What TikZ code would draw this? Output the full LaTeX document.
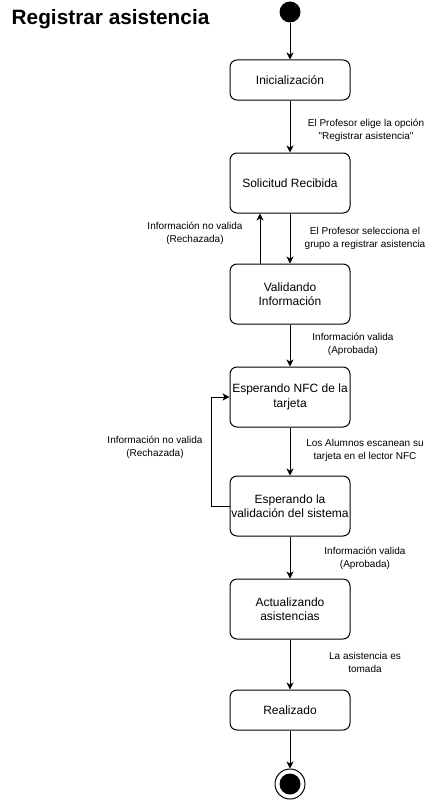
\documentclass[tikz,border=0pt]{standalone}
\usepackage{fontspec}
\setmainfont{Liberation Sans}
\usetikzlibrary{arrows.meta}
\begin{document}
\begin{tikzpicture}[x=1pt,y=-1pt,
  state/.style={draw=black,line width=1pt,rounded corners=7pt,minimum width=120pt,align=center,font=\fontsize{12}{14.5}\selectfont,inner sep=0pt},
  lbl/.style={align=center,font=\fontsize{10}{13}\selectfont,inner sep=0pt},
  arr/.style={draw=black,line width=1pt,-{Stealth[length=7pt,width=7pt,inset=2pt]}}]
\useasboundingbox (0,0) rectangle (440,800);
\node[anchor=west,font=\bfseries\fontsize{20.8}{24}\selectfont,inner sep=0pt] (title) at (11.5,19) {Registrar asistencia};
\node[circle,fill=black,minimum size=21pt,inner sep=0pt] (start) at (290,12) {};
\node[state,minimum height=40pt] (ini) at (290,80) {Inicialización};
\node[state,minimum height=60pt] (sol) at (290,183) {Solicitud Recibida};
\node[state,minimum height=60pt] (val) at (290,294) {Validando\\Información};
\node[state,minimum height=60pt] (nfc) at (290,397) {Esperando NFC de la\\tarjeta};
\node[state,minimum height=60pt] (sis) at (290,506) {Esperando la\\validación del sistema};
\node[state,minimum height=60pt] (act) at (290,609) {Actualizando\\asistencias};
\node[state,minimum height=40pt] (rea) at (290,710) {Realizado};
\node[circle,draw=black,line width=1pt,minimum size=30pt,inner sep=0pt] (fin) at (290,784) {};
\node[circle,fill=black,minimum size=21pt,inner sep=0pt] (finin) at (fin) {};
\coordinate (c1) at (211,506);
\coordinate (c2) at (211,397);
\draw[arr] (start) -- (ini);
\draw[arr] (ini) -- (sol);
\draw[arr] (sol.south) -- (val.north);
\draw[arr] (val.north west -| 260,0) -- (sol.south west -| 260,0);
\draw[arr] (val) -- (nfc);
\draw[arr] (nfc) -- (sis);
\draw[arr] (sis.west) -- (c1) -- (c2) -- (nfc.west);
\draw[arr] (sis) -- (act);
\draw[arr] (act) -- (rea);
\draw[arr] (rea) -- (fin);
\node[lbl] (l1) at (366,130) {El Profesor elige la opción\\\textquotedbl Registrar asistencia\textquotedbl};
\node[lbl] (l2) at (195,233) {Información no valida\\(Rechazada)};
\node[lbl] (l3) at (365,238) {El Profesor selecciona el\\grupo a registrar asistencia};
\node[lbl] (l4) at (353,344) {Información valida\\(Aprobada)};
\node[lbl] (l5) at (155,447) {Información no valida\\(Rechazada)};
\node[lbl] (l6) at (365,450) {Los Alumnos escanean su\\tarjeta en el lector NFC};
\node[lbl] (l7) at (365,558) {Información valida\\(Aprobada)};
\node[lbl] (l8) at (365,662) {La asistencia es\\tomada};
\end{tikzpicture}
\end{document}
